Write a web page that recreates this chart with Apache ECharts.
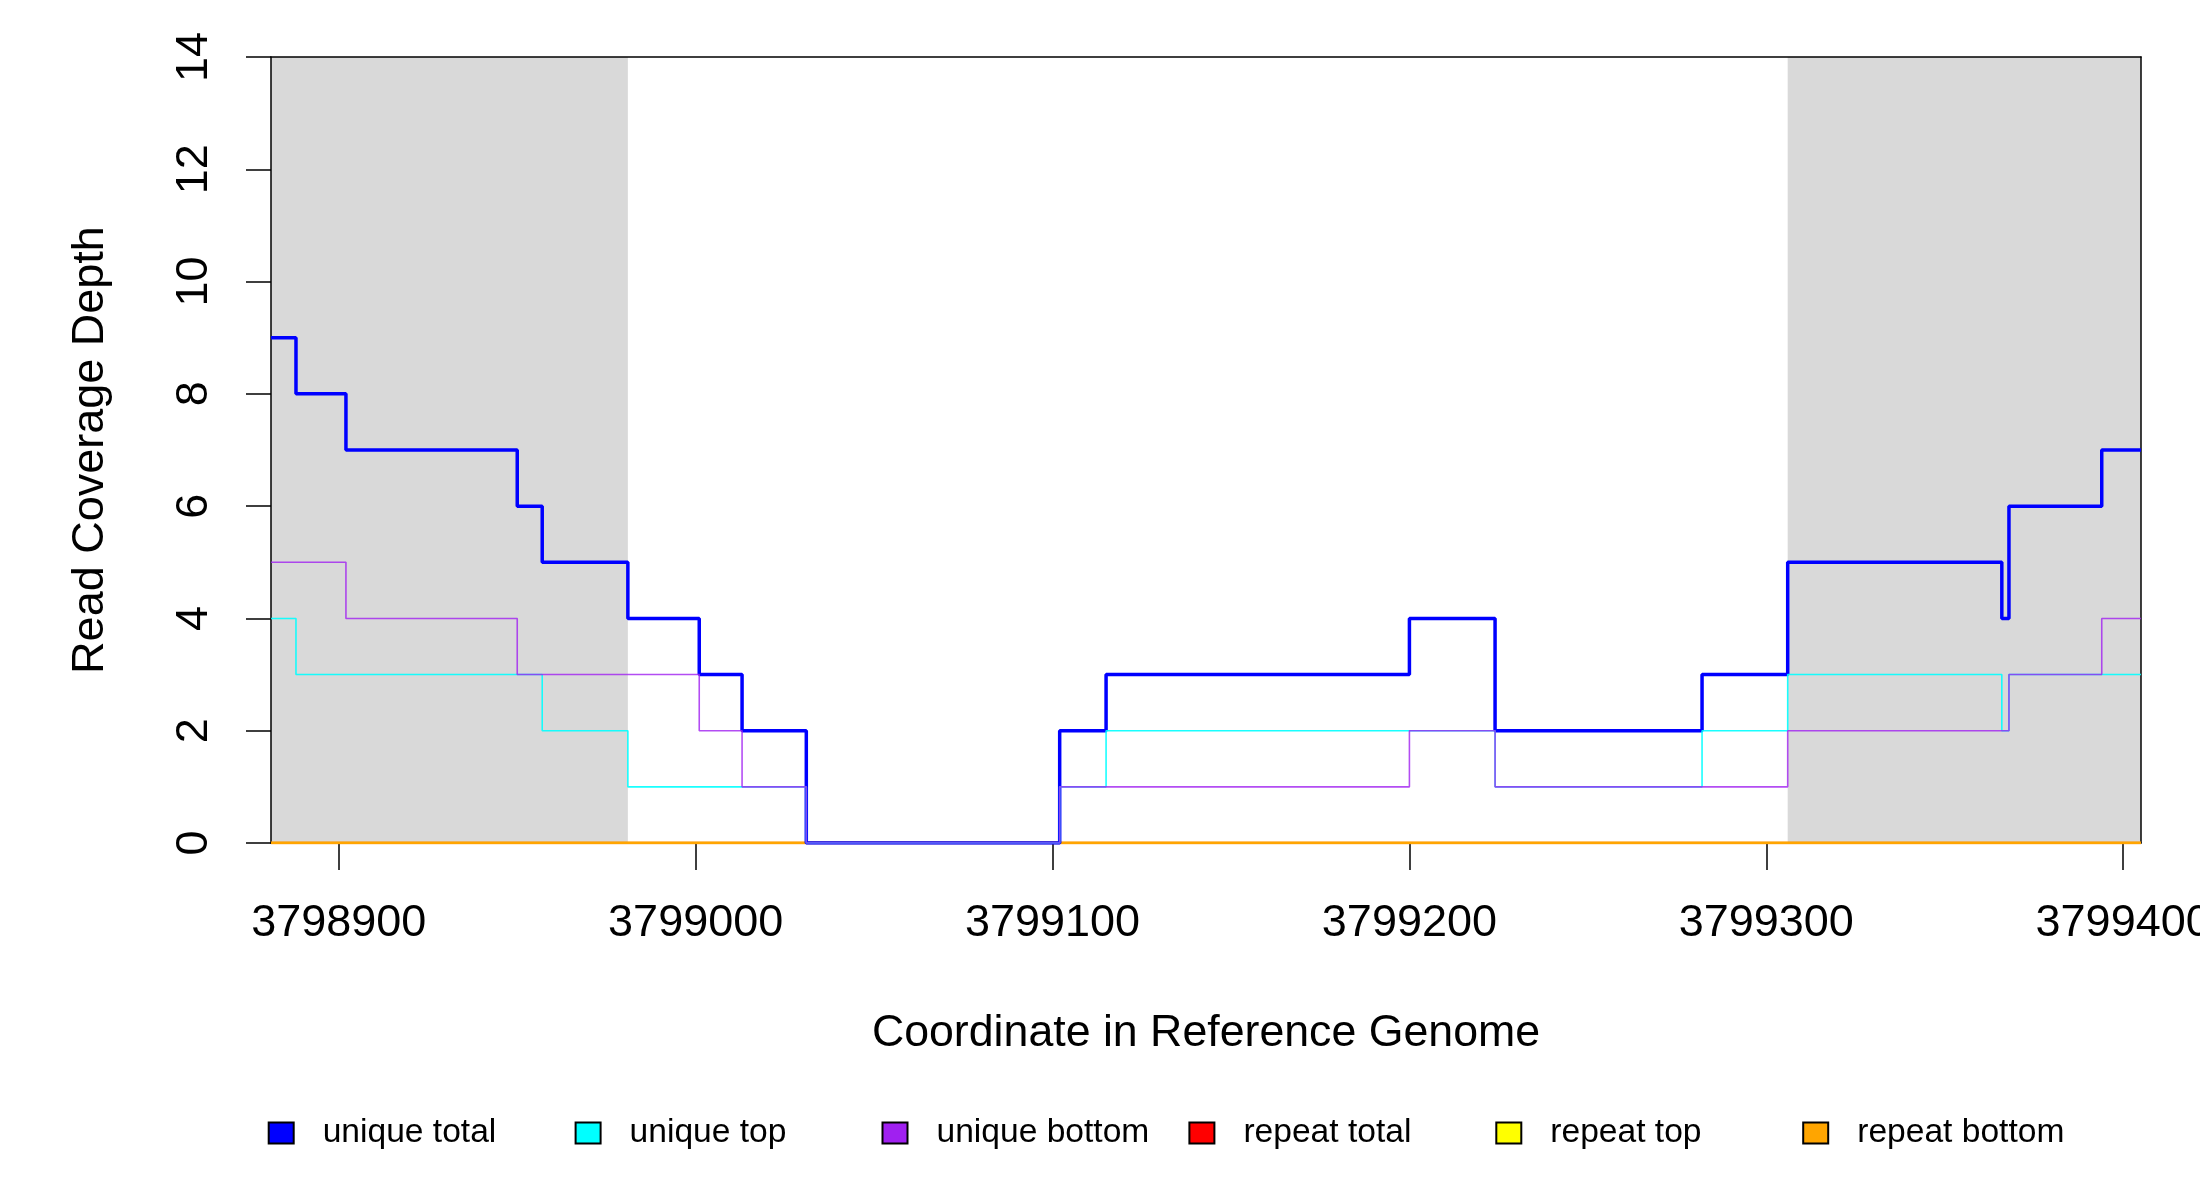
<!DOCTYPE html>
<html><head><meta charset="utf-8">
<script src="https://cdn.jsdelivr.net/npm/echarts@6/dist/echarts.min.js"></script>
<style>html,body{margin:0;padding:0;background:#fff}#c{width:2200px;height:1200px}</style>
</head><body><div id="c"></div>
<script>
// Breakpoints (start of each constant segment) plus the final end coordinate
const breakpoints = [3798881, 3798888, 3798902, 3798950, 3798957, 3798981, 3799001, 3799013, 3799031, 3799102, 3799115, 3799200, 3799224, 3799282, 3799306, 3799366, 3799368, 3799394, 3799405];
const uniqueTotal  = [9, 8, 7, 6, 5, 4, 3, 2, 0, 2, 3, 4, 2, 3, 5, 4, 6, 7];
const uniqueTop    = [4, 3, 3, 3, 2, 1, 1, 1, 0, 1, 2, 2, 1, 2, 3, 2, 3, 3];
const uniqueBottom = [5, 5, 4, 3, 3, 3, 2, 1, 0, 1, 1, 2, 1, 1, 2, 2, 3, 4];
const repeatTotal  = [0, 0, 0, 0, 0, 0, 0, 0, 0, 0, 0, 0, 0, 0, 0, 0, 0, 0];
const repeatTop    = [0, 0, 0, 0, 0, 0, 0, 0, 0, 0, 0, 0, 0, 0, 0, 0, 0, 0];
const repeatBottom = [0, 0, 0, 0, 0, 0, 0, 0, 0, 0, 0, 0, 0, 0, 0, 0, 0, 0];
const flankRegions = [[3798881, 3798981], [3799306, 3799405]];
const xRange = [3798881, 3799405];
const xTicks = [3798900, 3799000, 3799100, 3799200, 3799300, 3799400];
const seriesNames = ['unique total', 'unique top', 'unique bottom', 'repeat total', 'repeat top', 'repeat bottom'];
const seriesColors = ['#0000ff', '#00ffff', '#a020f0', '#ff0000', '#ffff00', '#ffa500'];
const seriesValues = [uniqueTotal, uniqueTop, uniqueBottom, repeatTotal, repeatTop, repeatBottom];

const FONT = 'Liberation Sans, Arial, sans-serif';
function stepData(vals) {
  const d = vals.map((v, i) => [breakpoints[i], v]);
  d.push([breakpoints[breakpoints.length - 1], vals[vals.length - 1]]);
  return d;
}
const lineWidths = [3.5, 1.6, 1.6, 2.5, 2.5, 2.5];
const lineOpacity = [1, 0.9, 0.8, 1, 1, 1];
const zOrder = [5, 6, 7, 3, 3, 4];

const series = seriesNames.map((name, i) => ({
  name: name, type: 'line', step: 'end', symbol: 'none', showSymbol: false,
  color: seriesColors[i], z: zOrder[i],
  lineStyle: { width: lineWidths[i], color: seriesColors[i], opacity: lineOpacity[i] },
  data: stepData(seriesValues[i]), silent: true, animation: false
}));
series.push({
  name: 'flank', type: 'line', data: [], silent: true,
  markArea: { z: 1, silent: true, itemStyle: { color: '#d9d9d9', borderWidth: 0 },
    data: flankRegions.map(r => [{ xAxis: r[0] }, { xAxis: r[1] }]) }
});

const legends = seriesNames.map((name, i) => ({
  data: [name], left: 267.7 + i * 306.9, top: 1113, padding: 0, selectedMode: false,
  icon: 'rect', itemWidth: 25, itemHeight: 21,
  itemStyle: { borderColor: '#000', borderWidth: 2 },
  textStyle: { fontSize: 33.6, lineHeight: 40, fontFamily: FONT, color: '#000', padding: [0, 0, 0, 24] }
}));

const axisLineStyle = { color: '#000', width: 1.5 };
const option = {
  animation: false,
  backgroundColor: '#fff',
  grid: { left: 271, top: 57, width: 1870, height: 786, outerBoundsMode: 'none', containLabel: false },
  legend: legends,
  xAxis: [{
    type: 'value', position: 'bottom', min: xRange[0], max: xRange[1], z: 2,
    axisLine: { show: true, onZero: false, lineStyle: axisLineStyle },
    axisTick: { show: true, customValues: xTicks, length: 27, lineStyle: axisLineStyle },
    axisLabel: { customValues: xTicks, margin: 58, fontSize: 45, fontFamily: FONT, color: '#000',
      formatter: v => String(v), hideOverlap: false, showMinLabel: true, showMaxLabel: true },
    splitLine: { show: false },
    name: 'Coordinate in Reference Genome', nameLocation: 'middle', nameGap: 168,
    nameTextStyle: { fontSize: 44.7, fontFamily: FONT, color: '#000' }
  }, {
    type: 'value', position: 'top', min: xRange[0], max: xRange[1], z: 2,
    axisLine: { show: true, onZero: false, lineStyle: axisLineStyle },
    axisTick: { show: false }, axisLabel: { show: false }, splitLine: { show: false }
  }],
  yAxis: [{
    type: 'value', position: 'left', min: 0, max: 14, interval: 2, z: 2,
    axisLine: { show: true, onZero: false, lineStyle: axisLineStyle },
    axisTick: { show: true, length: 25, lineStyle: axisLineStyle },
    axisLabel: { rotate: 90, margin: 54, fontSize: 45, fontFamily: FONT, color: '#000' },
    splitLine: { show: false },
    name: 'Read Coverage Depth', nameLocation: 'middle', nameGap: 158,
    nameTextStyle: { fontSize: 45, fontFamily: FONT, color: '#000' }
  }, {
    type: 'value', position: 'right', min: 0, max: 14, z: 2,
    axisLine: { show: true, onZero: false, lineStyle: axisLineStyle },
    axisTick: { show: false }, axisLabel: { show: false }, splitLine: { show: false }
  }],
  series: series
};
const chart = echarts.init(document.getElementById('c'), null, { renderer: 'canvas' });
chart.setOption(option);
</script></body></html>
